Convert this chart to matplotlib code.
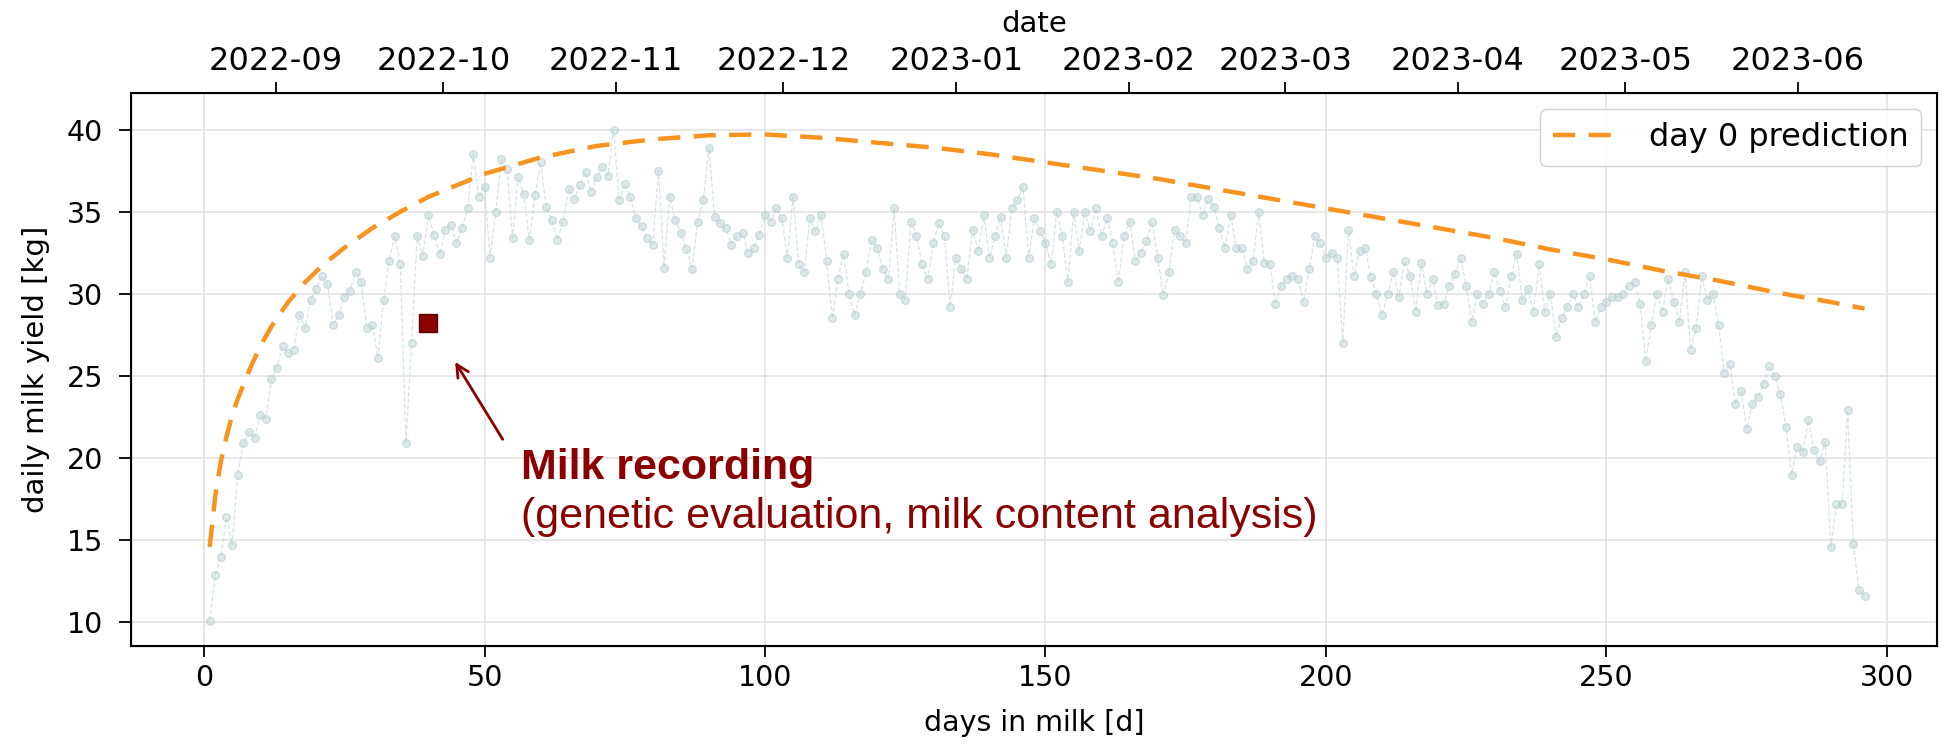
import numpy as np
import matplotlib
matplotlib.use("Agg")
import matplotlib.pyplot as plt
import matplotlib.dates as mdates

# daily milk yield [kg], one value per day in milk starting at day 1
milk_yield = [
    10.1, 12.9, 14.0, 16.4, 14.7, 19.0, 20.9, 21.6, 21.2, 22.6,
    22.4, 24.8, 25.5, 26.8, 26.4, 26.6, 28.7, 27.9, 29.6, 30.3,
    31.1, 30.6, 28.1, 28.7, 29.8, 30.2, 31.3, 30.7, 27.9, 28.1,
    26.1, 29.6, 32.0, 33.5, 31.8, 20.9, 27.0, 33.5, 32.3, 34.8,
    33.6, 32.4, 33.9, 34.2, 33.1, 34.0, 35.2, 38.5, 35.9, 36.5,
    32.2, 35.0, 38.2, 37.6, 33.4, 37.1, 36.1, 33.3, 36.0, 38.0,
    35.3, 34.5, 33.3, 34.4, 36.4, 35.8, 36.6, 37.4, 36.2, 37.1,
    37.7, 37.2, 40.0, 35.7, 36.7, 35.9, 34.6, 34.1, 33.4, 33.0,
    37.5, 31.6, 35.9, 34.5, 33.7, 32.7, 31.5, 34.4, 35.7, 38.9,
    34.7, 34.3, 34.0, 33.0, 33.5, 33.7, 32.5, 32.8, 33.6, 34.8,
    34.4, 35.2, 34.6, 32.2, 35.9, 31.8, 31.3, 34.6, 33.8, 34.8,
    32.0, 28.5, 30.9, 32.4, 30.0, 28.7, 30.0, 31.3, 33.3, 32.8,
    31.5, 30.9, 35.2, 30.0, 29.6, 34.4, 33.5, 31.8, 30.9, 33.1,
    34.3, 33.5, 29.2, 32.2, 31.5, 30.9, 33.9, 32.6, 34.8, 32.2,
    33.5, 34.7, 32.2, 35.2, 35.7, 36.5, 32.2, 34.6, 33.8, 33.1,
    31.8, 35.0, 33.5, 30.7, 35.0, 32.6, 35.0, 33.8, 35.2, 33.5,
    34.6, 33.1, 30.7, 33.5, 34.4, 32.0, 32.5, 33.2, 34.4, 32.2,
    29.9, 31.3, 33.9, 33.5, 33.1, 35.9, 35.9, 34.8, 35.8, 35.3,
    34.0, 32.8, 34.8, 32.8, 32.8, 31.5, 32.0, 35.0, 31.9, 31.8,
    29.4, 30.5, 30.9, 31.1, 30.9, 29.5, 31.5, 33.5, 33.1, 32.2,
    32.5, 32.2, 27.0, 33.9, 31.1, 32.6, 32.8, 31.0, 30.0, 28.7,
    30.0, 31.3, 29.8, 32.0, 31.1, 28.9, 31.9, 30.0, 30.9, 29.3,
    29.4, 30.5, 31.2, 32.2, 30.5, 28.3, 30.0, 29.4, 30.0, 31.3,
    30.2, 29.2, 31.1, 32.4, 29.6, 30.3, 28.9, 31.8, 28.9, 30.0,
    27.4, 28.5, 29.2, 30.0, 29.2, 30.0, 31.1, 28.3, 29.2, 29.5,
    29.8, 29.8, 30.0, 30.5, 30.7, 29.4, 25.9, 28.1, 30.0, 28.9,
    30.9, 29.5, 28.3, 31.3, 26.6, 27.9, 31.1, 29.6, 30.0, 28.1,
    25.2, 25.7, 23.3, 24.1, 21.8, 23.3, 23.7, 24.5, 25.6, 25.0,
    23.9, 21.9, 19.0, 20.7, 20.4, 22.3, 20.5, 19.8, 21.0, 14.6,
    17.2, 17.2, 22.9, 14.8, 12.0, 11.6,
]
days = np.arange(1, len(milk_yield) + 1)

pred_days = [1, 2, 3, 4, 5, 6, 8, 10, 12, 15, 18, 21, 25, 30, 35, 40, 45, 50,
             60, 70, 80, 90, 100, 110, 120, 130, 140, 150, 160, 170, 180, 190,
             200, 210, 220, 230, 240, 250, 260, 270, 280, 290, 296]
pred_yield = [14.6, 17.7, 19.8, 21.3, 22.6, 23.6, 25.3, 26.8, 28.0, 29.5, 30.7,
              31.7, 32.8, 34.0, 35.0, 35.9, 36.6, 37.3, 38.3, 39.0, 39.4, 39.65,
              39.7, 39.5, 39.2, 38.9, 38.5, 38.0, 37.5, 37.0, 36.4, 35.8, 35.2,
              34.6, 34.0, 33.4, 32.7, 32.1, 31.4, 30.8, 30.1, 29.5, 29.1]

# milk recording test day
rec_day = 40
rec_yield = 28.2

fig = plt.figure(figsize=(19.57, 7.53), dpi=100)
ax = fig.add_axes([0.067, 0.142, 0.923, 0.734])

ax.plot(days, milk_yield, linestyle="--", linewidth=0.9, color="#b5cdd0",
        marker="o", markersize=5.5, markerfacecolor="#c3d7da",
        markeredgecolor="#b3c9cc", alpha=0.55, zorder=2)
ax.plot(pred_days, pred_yield, linestyle=(0, (5, 3)), linewidth=3.2,
        color="#f7931e", label="day 0 prediction", zorder=3)
ax.plot([rec_day], [rec_yield], marker="s", markersize=13, color="#8b0000",
        markeredgecolor="#5a0000", linestyle="none", zorder=4)

ax.set_xlim(-13, 309)
ax.set_ylim(8.56, 42.2)
ax.set_yticks([10, 15, 20, 25, 30, 35, 40])
ax.set_xticks([0, 50, 100, 150, 200, 250, 300])
ax.grid(True, color="#e3e3e3", linewidth=1.2)
ax.tick_params(axis="x", labelsize=20.5, length=8, width=1.3, pad=5)
ax.tick_params(axis="y", labelsize=20.5, length=9, width=1.3, pad=11)
for s in ax.spines.values():
    s.set_linewidth(1.5)
ax.set_xlabel("days in milk [d]", fontsize=20.5, labelpad=12)
ax.set_ylabel("daily milk yield [kg]", fontsize=21, labelpad=12)

leg = ax.legend(loc="upper right", fontsize=23, handlelength=2.2,
                borderpad=0.4, framealpha=0.9)

# top axis with calendar dates
ax2 = ax.twiny()
ax2.set_xlim(mdates.datestr2num("2022-08-06"), mdates.datestr2num("2023-06-26"))
ax2.xaxis.set_major_locator(mdates.MonthLocator())
ax2.xaxis.set_major_formatter(mdates.DateFormatter("%Y-%m"))
ax2.tick_params(labelsize=23, length=8, width=1.3, pad=4)
ax2.set_xlabel("date", fontsize=21, labelpad=10)

# annotation for the milk recording
ax.annotate("", xy=(44.5, 26.0), xytext=(53.5, 21.0),
            arrowprops=dict(arrowstyle="->", color="#8b0000", lw=2,
                            mutation_scale=22))
ax.text(56.5, 19.4, "Milk recording", fontsize=31, fontweight="bold",
        color="#8b0000", family="Liberation Sans", va="center")
ax.text(56.5, 16.4, "(genetic evaluation, milk content analysis)", fontsize=31,
        color="#8b0000", family="Liberation Sans", va="center")

fig.savefig("out.png", dpi=100)
